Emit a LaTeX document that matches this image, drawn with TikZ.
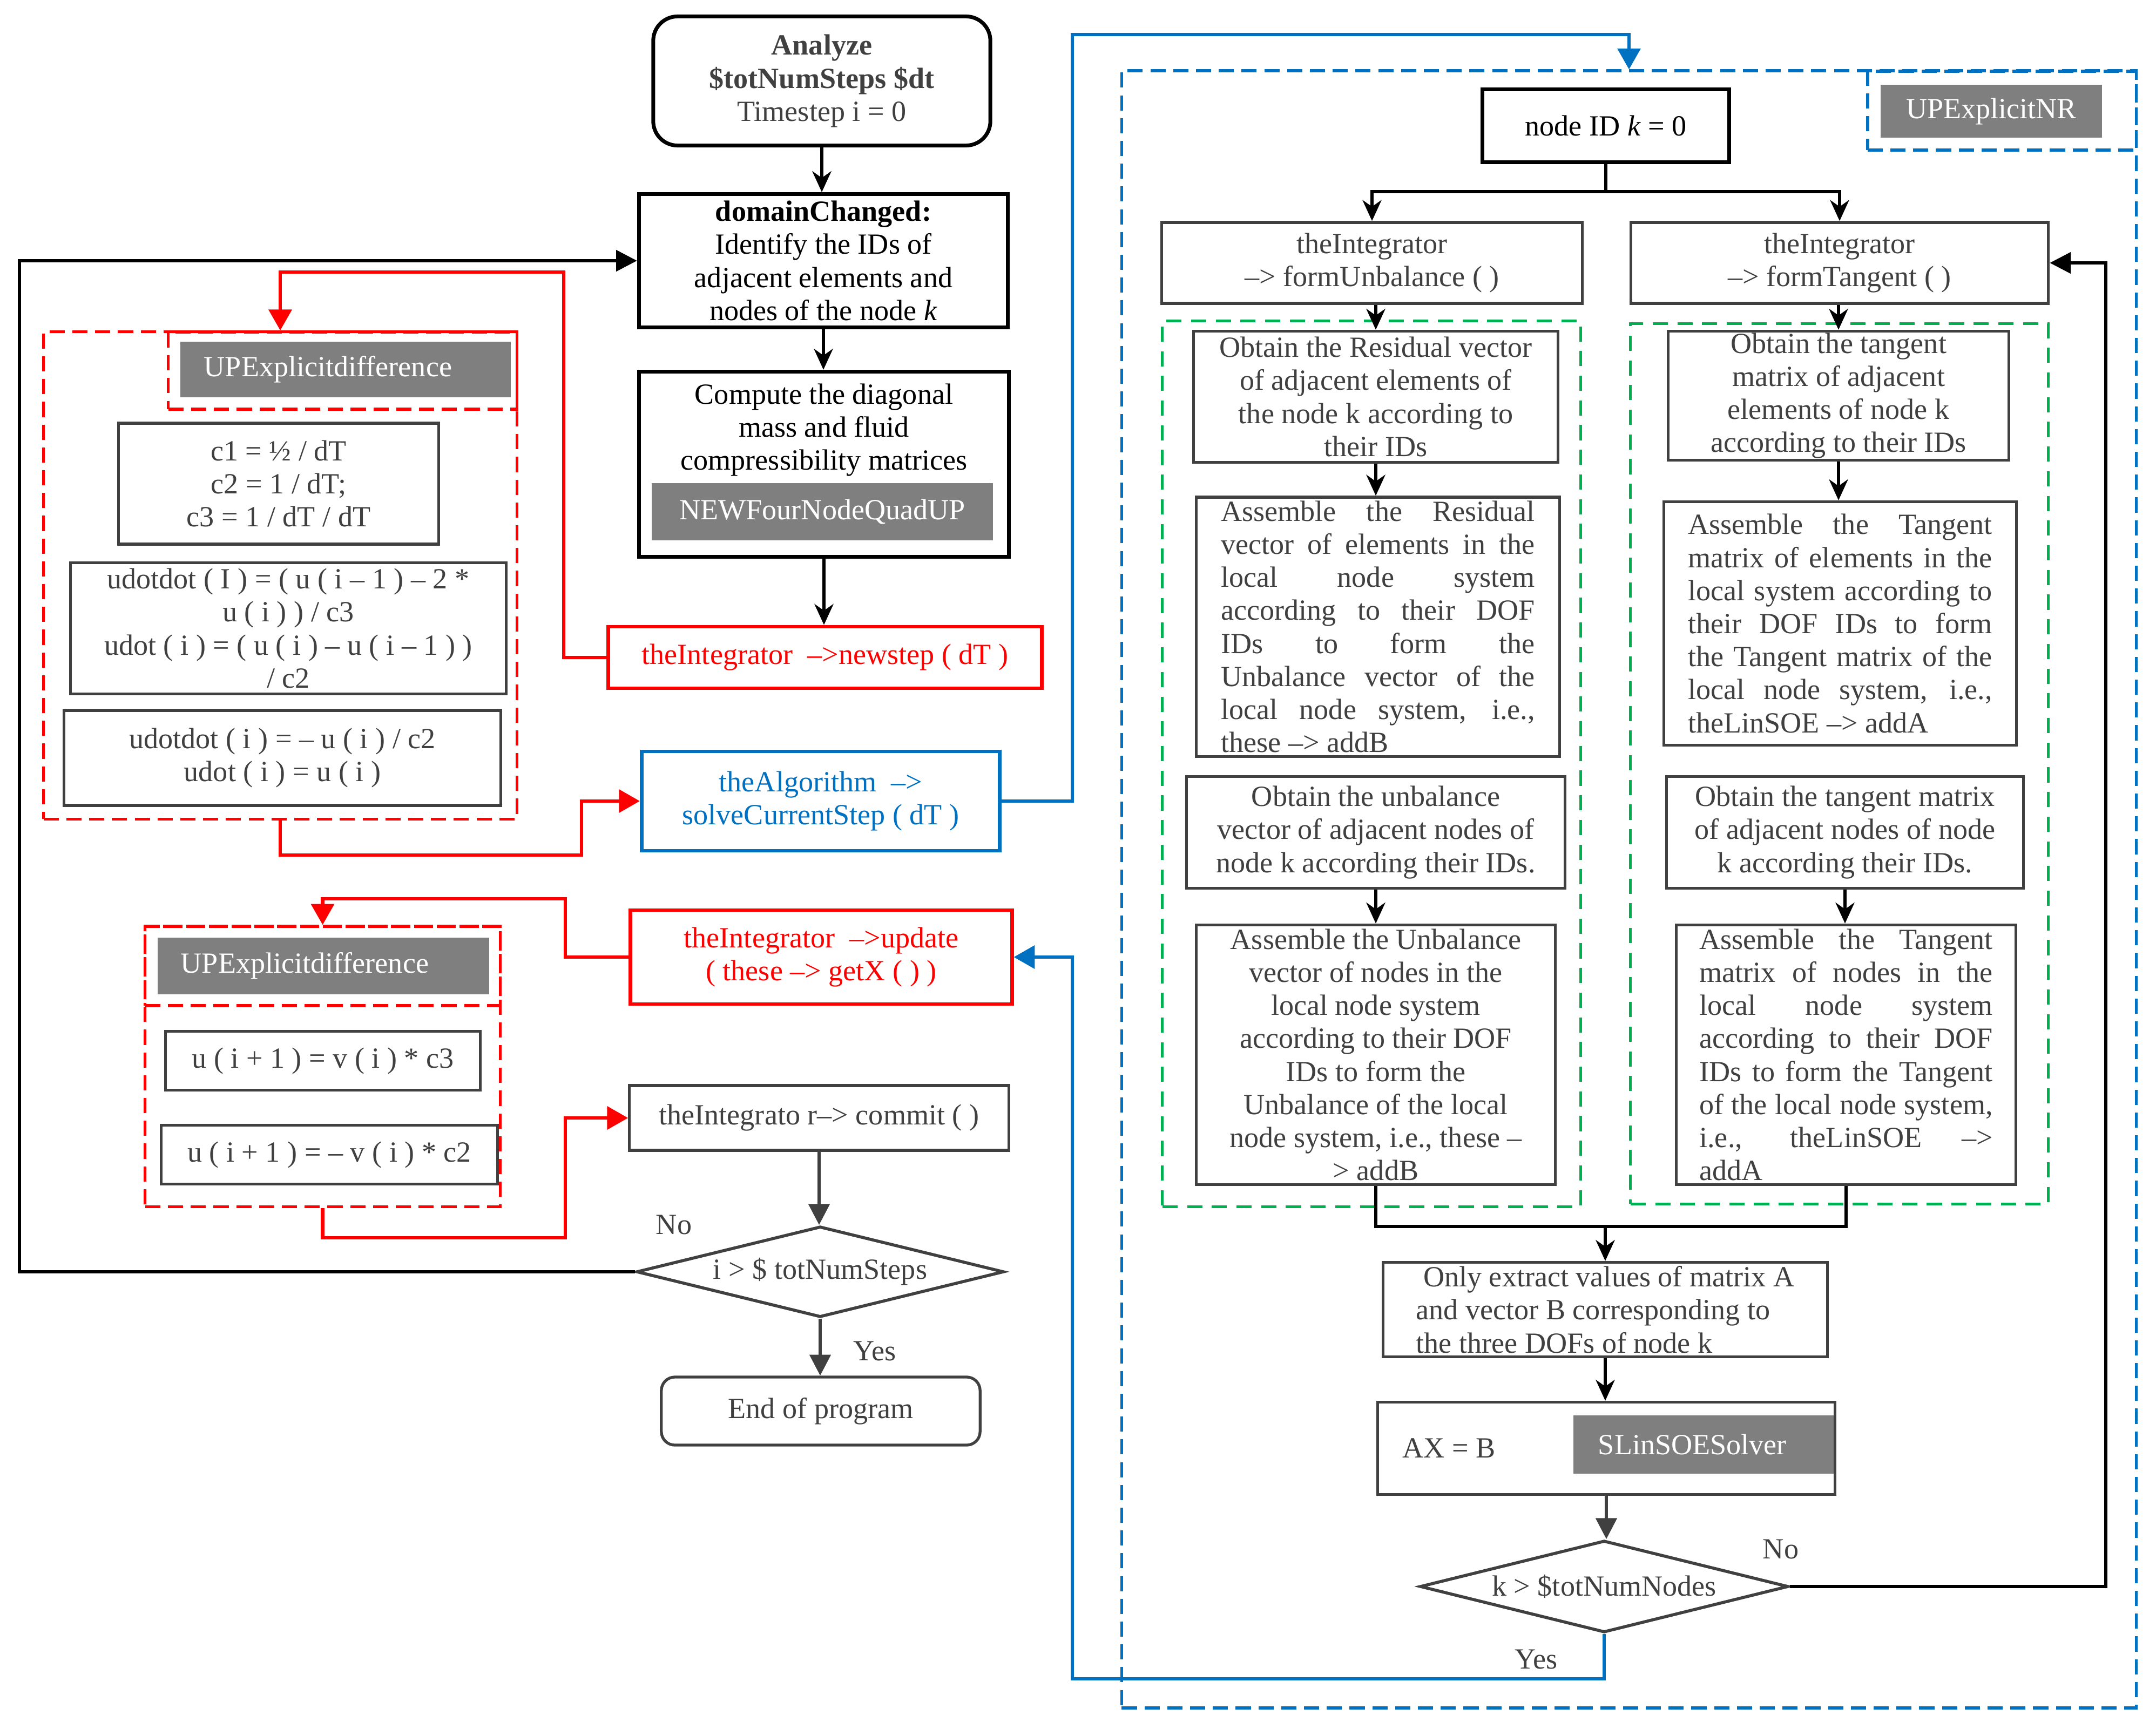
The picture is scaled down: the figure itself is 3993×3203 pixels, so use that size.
\documentclass[tikz,border=0pt]{standalone}
\usepackage{fontspec}
\setmainfont{Liberation Serif}
\usetikzlibrary{positioning,shapes.geometric,arrows.meta}

\definecolor{dkgray}{HTML}{404040}
\definecolor{flowred}{HTML}{FF0000}
\definecolor{flowblue}{HTML}{0070C0}
\definecolor{flowgreen}{HTML}{00B050}
\definecolor{hdrgray}{HTML}{7F7F7F}

\newcommand{\jline}[2]{\makebox[#1][s]{#2}}

\tikzset{
	blk/.style={rectangle, draw=dkgray, line width=1.5pt, fill=white, text=dkgray, align=center, inner sep=0pt},
	blkdark/.style={blk, draw=black, text=black, line width=2pt},
	redbox/.style={blk, draw=flowred, text=flowred, line width=1.9pt},
	bluebox/.style={blk, draw=flowblue, text=flowblue, line width=1.9pt},
	hdr/.style={rectangle, fill=hdrgray, text=white, inner sep=0pt},
	reddash/.style={draw=flowred, line width=1.5pt, dash pattern=on 8pt off 4pt},
	greendash/.style={draw=flowgreen, line width=1.5pt, dash pattern=on 8pt off 5pt},
	bluedash/.style={draw=flowblue, line width=1.5pt, dash pattern=on 8pt off 4pt},
	decision/.style={diamond, aspect=4, draw=dkgray, line width=1.6pt, fill=white, text=dkgray, inner sep=0pt},
	lbl/.style={text=dkgray, inner sep=0pt},
	arr/.style={draw=black, line width=1.6pt, -{Stealth[length=11pt, width=10pt, inset=3.5pt]}},
	tri/.style={draw=black, line width=1.6pt, -{Triangle[length=11pt, width=11pt]}},
	grayarr/.style={draw=dkgray, line width=1.6pt, -{Triangle[length=11pt, width=11pt]}},
	redarr/.style={draw=flowred, line width=1.8pt, -{Triangle[length=11pt, width=12pt]}},
	bluearr/.style={draw=flowblue, line width=1.8pt, -{Triangle[length=11pt, width=12pt]}},
}

\begin{document}
\begin{tikzpicture}[x=0.01cm, y=-0.01cm, font=\fontsize{15.4}{17.4}\selectfont]
	\useasboundingbox (0,0) rectangle (3993,3203);

	% dashed groups
	\node[reddash, minimum width=8.76cm, minimum height=9.02cm] (grpA) at (519,1066) {};
	\node[reddash, minimum width=6.45cm, minimum height=1.43cm] (grpAhd) at (634.5,686.5) {};
	\node[reddash, minimum width=6.57cm, minimum height=5.19cm] (grpB) at (597.5,1975.5) {};
	\node[reddash, minimum width=6.57cm, minimum height=1.47cm] (grpBhd) at (597.5,1789.5) {};
	\node[bluedash, minimum width=18.78cm, minimum height=30.31cm] (grpNR) at (3017,1647.5) {};
	\node[bluedash, minimum width=4.97cm, minimum height=1.46cm] (grpNRhd) at (3707.5,205) {};
	\node[greendash, minimum width=7.74cm, minimum height=16.4cm] (grnU) at (2540,1415) {};
	\node[greendash, minimum width=7.73cm, minimum height=16.3cm] (grnT) at (3406.5,1415) {};

	% main column
	\node[blkdark, rounded corners=0.45cm, minimum width=6.24cm, minimum height=2.39cm, text=dkgray] (start) at (1522,150) {\textbf{Analyze}\\\textbf{\$totNumSteps \$dt}\\Timestep i = 0};
	\node[blkdark, minimum width=6.83cm, minimum height=2.47cm] (domain) at (1525,483) {\textbf{domainChanged:}\\Identify the IDs of\\adjacent elements and\\nodes of the node \textit{k}};
	\node[blkdark, minimum width=6.85cm, minimum height=3.43cm] (compute) at (1526,860) {};
	\node[lbl, text=black, align=center, below=0.25cm of compute.north] (computetxt) {Compute the diagonal\\mass and fluid\\compressibility matrices};
	\node[hdr, minimum width=6.32cm, minimum height=1.05cm] (nfq) at (1523,948) {NEWFourNodeQuadUP};
	\node[redbox, minimum width=8.03cm, minimum height=1.14cm] (newstep) at (1528,1218) {theIntegrator~ –>newstep ( dT )};
	\node[bluebox, minimum width=6.63cm, minimum height=1.84cm] (solve) at (1520,1484) {theAlgorithm~ –>\\solveCurrentStep ( dT )};
	\node[redbox, minimum width=7.06cm, minimum height=1.74cm] (update) at (1521,1773) {theIntegrator~ –>update\\( these –> getX ( ) )};
	\node[blk, minimum width=7.02cm, minimum height=1.2cm] (commit) at (1517,2071) {theIntegrato r–> commit ( )};
	\node[decision, minimum width=6.8cm, minimum height=1.68cm] (diam1) at (1519,2356) {i > \$ totNumSteps};
	\node[blk, rounded corners=0.25cm, minimum width=5.9cm, minimum height=1.26cm] (finish) at (1520,2614) {End of program};
	\node[lbl] (noA) at (1248,2269) {No};
	\node[lbl] (yesA) at (1620,2503) {Yes};

	% left groups
	\node[hdr, minimum height=1.03cm, text width=5.24cm, inner xsep=0.44cm, align=left] (hdrA) at (640,684.5) {UPExplicitdifference};
	\node[blk, minimum width=5.93cm, minimum height=2.24cm] (coef) at (516,896) {c1 = ½ / dT\\c2 = 1 / dT;\\c3 = 1 / dT / dT};
	\node[blk, minimum width=8.06cm, minimum height=2.43cm] (accA) at (534,1164) {udotdot ( I ) = ( u ( i – 1 ) – 2 *\\u ( i ) ) / c3\\udot ( i ) = ( u ( i ) – u ( i – 1 ) )\\/ c2};
	\node[blk, minimum width=8.09cm, minimum height=1.76cm] (accB) at (523,1404) {udotdot ( i ) = – u ( i ) / c2\\udot ( i ) = u ( i )};
	\node[hdr, minimum height=1.05cm, text width=5.28cm, inner xsep=0.43cm, align=left] (hdrB) at (599,1789.5) {UPExplicitdifference};
	\node[blk, minimum width=5.83cm, minimum height=1.09cm] (updA) at (598,1965) {u ( i + 1 ) = v ( i ) * c3};
	\node[blk, minimum width=6.23cm, minimum height=1.09cm] (updB) at (610,2139) {u ( i + 1 ) = – v ( i ) * c2};

	% right block
	\node[hdr, minimum width=4.09cm, minimum height=0.98cm] (hdrNR) at (3688,206) {UPExplicitNR};
	\node[blkdark, minimum width=4.56cm, minimum height=1.34cm] (nodeid) at (2974,233) {node ID \textit{k} = 0};
	\node[blk, minimum width=7.78cm, minimum height=1.5cm] (formU) at (2541,487) {theIntegrator\\–> formUnbalance ( )};
	\node[blk, minimum width=7.73cm, minimum height=1.5cm] (formT) at (3407,487) {theIntegrator\\–> formTangent ( )};
	\node[blk, minimum width=6.75cm, minimum height=2.43cm] (resget) at (2548,735) {Obtain the Residual vector\\of adjacent elements of\\the node k according to\\their IDs};
	\node[blk, minimum width=6.73cm, minimum height=4.8cm] (resasm) at (2552,1161) {\jline{5.81cm}{Assemble the Residual}\\\jline{5.81cm}{vector of elements in the}\\\jline{5.81cm}{local node system}\\\jline{5.81cm}{according to their DOF}\\\jline{5.81cm}{IDs to form the}\\\jline{5.81cm}{Unbalance vector of the}\\\jline{5.81cm}{local node system, i.e.,}\\\makebox[5.81cm][l]{these –> addB}};
	\node[blk, minimum width=6.3cm, minimum height=2.39cm] (tanget) at (3405,733) {Obtain the tangent\\matrix of adjacent\\elements of node k\\according to their IDs};
	\node[blk, minimum width=6.53cm, minimum height=4.51cm] (tanasm) at (3408,1155) {\jline{5.63cm}{Assemble the Tangent}\\\jline{5.63cm}{matrix of elements in the}\\\jline{5.63cm}{local system according to}\\\jline{5.63cm}{their DOF IDs to form}\\\jline{5.63cm}{the Tangent matrix of the}\\\jline{5.63cm}{local node system, i.e.,}\\\makebox[5.63cm][l]{theLinSOE –> addA}};
	\node[blk, minimum width=7cm, minimum height=2.07cm] (unbget) at (2548,1542) {Obtain the unbalance\\vector of adjacent nodes of\\node k according their IDs.};
	\node[blk, minimum width=6.64cm, minimum height=4.81cm] (unbasm) at (2548,1954) {Assemble the Unbalance\\vector of nodes in the\\local node system\\according to their DOF\\IDs to form the\\Unbalance of the local\\node system, i.e., these –\\> addB};
	\node[blk, minimum width=6.61cm, minimum height=2.07cm] (tanNget) at (3417,1542) {Obtain the tangent matrix\\of adjacent nodes of node\\k according their IDs.};
	\node[blk, minimum width=6.29cm, minimum height=4.81cm] (tanNasm) at (3419,1954) {\jline{5.43cm}{Assemble the Tangent}\\\jline{5.43cm}{matrix of nodes in the}\\\jline{5.43cm}{local node system}\\\jline{5.43cm}{according to their DOF}\\\jline{5.43cm}{IDs to form the Tangent}\\\jline{5.43cm}{of the local node system,}\\\jline{5.43cm}{i.e., theLinSOE –>}\\\makebox[5.43cm][l]{addA}};
	\node[blk, minimum width=8.22cm, minimum height=1.75cm, align=left] (extract) at (2973,2426) {\ Only extract values of matrix A\\and vector B corresponding to\\the three DOFs of node k};
	\node[blk, minimum width=8.46cm, minimum height=1.71cm] (axb) at (2975,2683) {};
	\node[lbl, anchor=west] (axbtxt) at (2597,2683) {AX = B};
	\node[hdr, minimum height=1.08cm, text width=3.9cm, inner xsep=0.46cm, align=left] (solver) at (3155,2676) {SLinSOESolver};
	\node[decision, minimum width=6.82cm, minimum height=1.7cm] (diam2) at (2971,2939) {k > \$totNumNodes};
	\node[lbl] (noB) at (3298,2870) {No};
	\node[lbl] (yesB) at (2845,3074) {Yes};

	% bends
	\coordinate (lp) at (36,483);
	\coordinate (r1) at (1044,504);
	\coordinate (r2) at (1077,1584);
	\coordinate (r3) at (1047,1665);
	\coordinate (r4) at (1047,2293);
	\coordinate (b1) at (1986,64);
	\coordinate (b2) at (1986,3110);
	\coordinate (br) at (2974,355);
	\coordinate (jn) at (2973,2272);
	\coordinate (k1) at (3900,487);

	% main flow
	\draw[arr] (start.south) -- (start.south |- domain.north);
	\draw[arr] (domain.south) -- (domain.south |- compute.north);
	\draw[arr] (compute.south) -- (compute.south |- newstep.north);
	\draw[grayarr] (commit.south) -- (commit.south |- diam1.north);
	\draw[grayarr] (diam1.south) -- (diam1.south |- finish.north);
	\draw[tri] (diam1.west) -| (lp) -- (domain.west);

	\draw[redarr] (newstep.west) -| (r1) -| (grpA.north);
	\draw[redarr] (grpA.south) |- (r2) |- (solve.west);
	\draw[redarr] (update.west) -| (r3) -| (grpB.north);
	\draw[redarr] (grpB.south) |- (r4) |- (commit.west);

	\draw[bluearr] (solve.east) -| (b1) -| (grpNR.north);
	\draw[bluearr] (diam2.south) |- (b2) |- (update.east);

	% node loop
	\draw[line width=1.6pt] (nodeid.south) -- (br);
	\draw[arr] (br) -| (formU.north);
	\draw[arr] (br) -| (formT.north);
	\draw[arr] (resget.north |- formU.south) -- (resget.north);
	\draw[arr] (resget.south) -- (resget.south |- resasm.north);
	\draw[arr] (tanget.north |- formT.south) -- (tanget.north);
	\draw[arr] (tanget.south) -- (tanget.south |- tanasm.north);
	\draw[arr] (unbget.south) -- (unbget.south |- unbasm.north);
	\draw[arr] (tanNget.south) -- (tanNget.south |- tanNasm.north);
	\draw[line width=1.6pt] (unbasm.south) |- (jn);
	\draw[line width=1.6pt] (tanNasm.south) |- (jn);
	\draw[arr] (jn) -- (jn |- extract.north);
	\draw[arr] (extract.south) -- (extract.south |- axb.north);
	\draw[grayarr] (axb.south) -- (axb.south |- diam2.north);
	\draw[tri] (diam2.east) -| (k1) -- (formT.east);
\end{tikzpicture}
\end{document}
